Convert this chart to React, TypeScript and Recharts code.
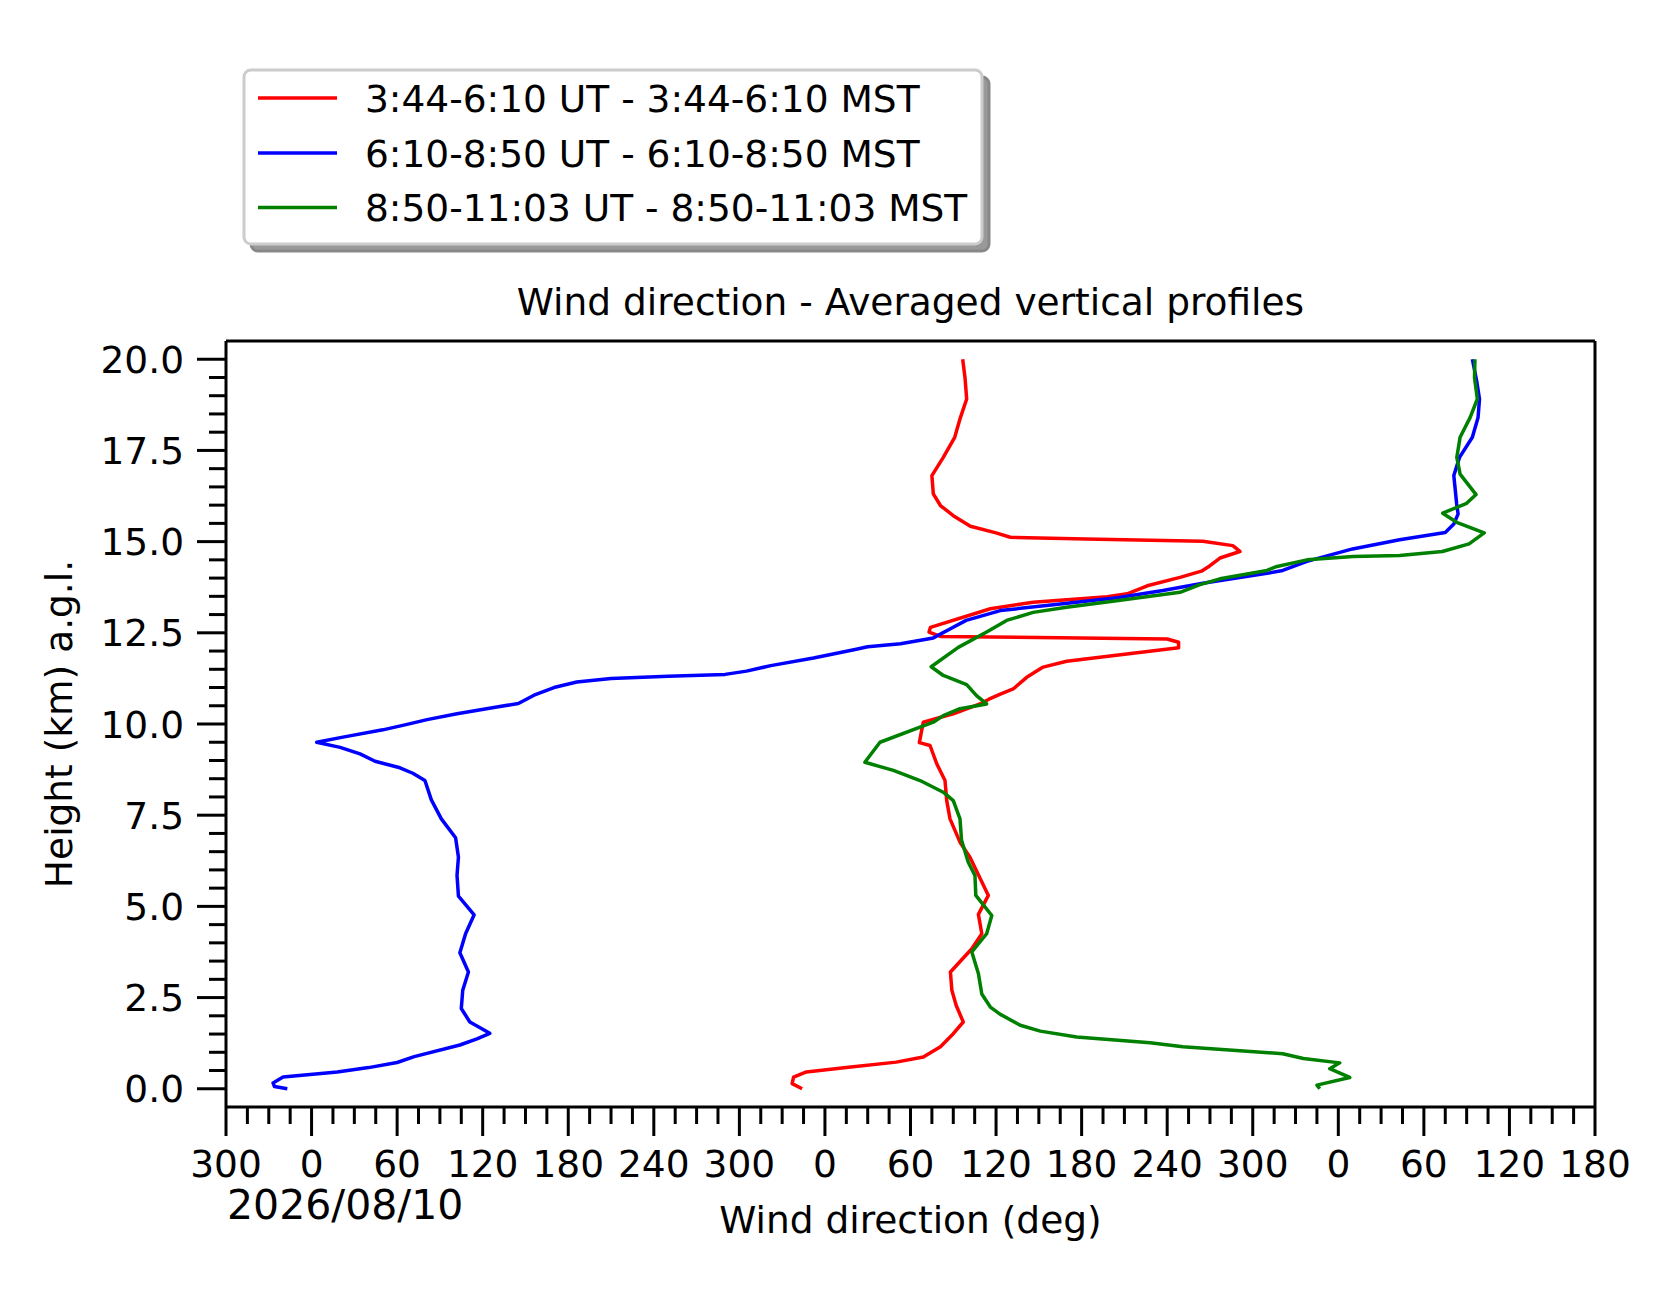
import React from 'react';
import { LineChart, Line, XAxis, YAxis } from 'recharts';

// ---- series names ----
const seriesNames = [
  '3:44-6:10 UT - 3:44-6:10 MST',
  '6:10-8:50 UT - 6:10-8:50 MST',
  '8:50-11:03 UT - 8:50-11:03 MST',
];
const seriesColors = ['#ff0000', '#0000ff', '#008000'];

// ---- red profile (unwrapped wind direction, deg ; height, km) ----
const redDirection = [
  344, 337, 338, 347, 375, 410, 429, 441, 450, 457, 452, 449, 448, 463, 470, 467.6, 474.6,
  461.7, 454.7, 447.7, 445.4, 444.2, 438.4, 433.7, 426.2, 427.8, 429, 450, 468.7, 475, 483,
  492, 501.5, 513, 529.5, 576, 608, 608, 600, 441, 433, 434, 476, 506, 558, 572, 586, 609,
  624, 630, 637, 651, 646, 625, 543, 490, 480, 462, 450, 441, 436, 435, 443, 451, 455,
  459.4, 458.2, 456.6,
];
const redHeight = [
  0.0, 0.14, 0.32, 0.46, 0.58, 0.73, 0.87, 1.15, 1.51, 1.83, 2.29, 2.7, 3.2, 3.84, 4.25, 4.78, 5.3,
  6.35, 6.76, 7.4, 7.9, 8.45, 8.91, 9.41, 9.49, 9.82, 10.05, 10.28, 10.55, 10.68, 10.82,
  10.96, 11.28, 11.56, 11.72, 11.94, 12.09, 12.24, 12.33, 12.4, 12.52, 12.65, 13.16, 13.34, 13.49, 13.57, 13.79, 14.02,
  14.19, 14.34, 14.55, 14.73, 14.89, 15.01, 15.07, 15.12, 15.24, 15.42, 15.71, 15.99, 16.31, 16.81, 17.31, 17.86, 18.4,
  18.91, 19.5, 20.0,
];

// ---- blue profile ----
const blueDirection = [
  -17, -26, -27, -20, 18, 40, 60, 72, 104, 116, 125, 111, 105, 106, 110, 104, 108, 114, 103,
  102, 103, 101, 91, 84, 79.5, 71, 62, 44.5, 34, 20, 3.6, 22, 50, 67, 81, 102, 132, 145, 156,
  170, 186, 210, 250, 290, 305, 322, 352, 382, 390, 413, 436, 448, 459, 483, 530, 565, 597,
  625, 670, 681, 698, 730, 763, 795, 801, 804, 803, 801, 805, 814, 818, 819, 817, 814,
];
const blueHeight = [
  0.0, 0.06, 0.16, 0.32, 0.46, 0.58, 0.72, 0.88, 1.2, 1.37, 1.52, 1.83, 2.2, 2.7, 3.2, 3.73, 4.25, 4.77, 5.28,
  5.85, 6.35, 6.88, 7.4, 7.92, 8.45, 8.65, 8.8, 8.98, 9.18, 9.36, 9.5, 9.64, 9.84, 9.99, 10.12, 10.28, 10.48, 10.56, 10.79,
  11.0, 11.15, 11.25, 11.31, 11.36, 11.45, 11.6, 11.81, 12.05, 12.12, 12.2, 12.36, 12.61, 12.84, 13.11, 13.31, 13.46, 13.66,
  13.86, 14.13, 14.21, 14.46, 14.8, 15.05, 15.25, 15.48, 15.76, 16.03, 16.81, 17.31, 17.86, 18.4, 18.91, 19.41, 20.0,
];

// ---- green profile ----
const greenDirection = [
  707, 705, 728, 714, 721, 695.5, 681, 611, 588, 536.5, 511, 497, 483, 476, 470, 467.6, 463,
  473.4, 477, 465.8, 465.2, 460.5, 455.8, 454.7, 450, 443, 426.7, 408, 388, 398.6, 436, 443,
  454.7, 473.4, 466.3, 459.4, 443, 434.5, 453.5, 473.4, 487.4, 506, 529.5, 564.5, 609, 623,
  637, 670, 677, 698, 730.5, 763, 793, 811.7, 822.3, 803, 793.2, 810, 816.6, 805.4, 803.1,
  805.4, 812.4, 817.5, 815.5, 815.8,
];
const greenHeight = [
  0.0, 0.1, 0.31, 0.55, 0.71, 0.83, 0.96, 1.15, 1.26, 1.42, 1.58, 1.74, 2.04, 2.24, 2.6, 3.16, 3.75,
  4.25, 4.75, 5.3, 5.85, 6.21, 6.81, 7.4, 7.9, 8.13, 8.45, 8.73, 8.95, 9.5, 10.05, 10.23,
  10.42, 10.55, 10.78, 11.08, 11.33, 11.57, 12.1, 12.52, 12.84, 13.06, 13.2, 13.38, 13.61, 13.82,
  13.98, 14.21, 14.32, 14.5, 14.59, 14.62, 14.73, 14.94, 15.24, 15.53, 15.78, 16.05, 16.29, 16.85, 17.31,
  17.86, 18.4, 18.91, 19.5, 20.0,
];

// ---- axes ----
const xDomain: [number, number] = [-60, 900];
const yDomain: [number, number] = [-0.5, 20.5];
const xMajorTicks = [-60, 0, 60, 120, 180, 240, 300, 360, 420, 480, 540, 600, 660, 720, 780, 840, 900];
const yMajorTicks = [0, 2.5, 5, 7.5, 10, 12.5, 15, 17.5, 20];
const xMinorStep = 15;
const yMinorStep = 0.5;

const titleText = 'Wind direction - Averaged vertical profiles';
const xLabelText = 'Wind direction (deg)';
const yLabelText = 'Height (km) a.g.l.';
const dateText = '2026/08/10';

const toPoints = (dirs: number[], hs: number[]) => dirs.map((d, i) => ({ dir: d, h: hs[i] }));
const series = [
  toPoints(redDirection, redHeight),
  toPoints(blueDirection, blueHeight),
  toPoints(greenDirection, greenHeight),
];

const allXTicks: number[] = [];
for (let v = xDomain[0]; v <= xDomain[1] + 1e-9; v += xMinorStep) allXTicks.push(v);
const allYTicks: number[] = [];
for (let v = 0; v <= 20 + 1e-9; v += yMinorStep) allYTicks.push(Math.round(v * 10) / 10);

const FONT = 'DejaVu Sans';
const FS = 37.5;
const W = 1660;
const H = 1287;

const wrap360 = (v: number) => ((v % 360) + 360) % 360;
const isMajorX = (v: number) => xMajorTicks.includes(v);
const isMajorY = (v: number) => yMajorTicks.some((m) => Math.abs(m - v) < 1e-6);

const XTick = (props: any) => {
  const { x, y, payload } = props;
  const v = payload.value as number;
  const major = isMajorX(v);
  const len = major ? 29 : 17;
  return (
    <g>
      <line x1={x} y1={y} x2={x} y2={y + len} stroke="#000" strokeWidth={3} />
      {major && (
        <text x={x} y={y + 70} textAnchor="middle" fontSize={FS} fontFamily={FONT} fill="#000">
          {String(wrap360(v))}
        </text>
      )}
    </g>
  );
};

const YTick = (props: any) => {
  const { x, y, payload } = props;
  const v = payload.value as number;
  const major = isMajorY(v);
  const len = major ? 29 : 17;
  return (
    <g>
      <line x1={x} y1={y} x2={x - len} y2={y} stroke="#000" strokeWidth={3} />
      {major && (
        <text x={x - 42} y={y + 13.5} textAnchor="end" fontSize={FS} fontFamily={FONT} fill="#000">
          {v.toFixed(1)}
        </text>
      )}
    </g>
  );
};

const legendRowsY = [90, 145, 199.5];

export default function App() {
  return (
    <div style={{ position: 'relative', width: W, height: H, background: '#fff' }}>
      <LineChart
        width={W}
        height={H}
        margin={{ top: 332, right: 72, bottom: 88, left: 68 }}
      >
        <XAxis
          xAxisId={0}
          dataKey="dir"
          type="number"
          domain={xDomain}
          allowDataOverflow
          ticks={allXTicks}
          interval={0}
          height={100}
          tickSize={0}
          tickMargin={0}
          tickLine={false}
          axisLine={{ stroke: '#000', strokeWidth: 3 }}
          tick={<XTick />}
        />
        <XAxis
          xAxisId="top"
          orientation="top"
          dataKey="dir"
          type="number"
          domain={xDomain}
          allowDataOverflow
          height={1}
          tick={false}
          tickLine={false}
          axisLine={{ stroke: '#000', strokeWidth: 3 }}
        />
        <YAxis
          yAxisId={0}
          type="number"
          domain={yDomain}
          allowDataOverflow
          ticks={allYTicks}
          interval={0}
          width={150}
          tickSize={0}
          tickMargin={0}
          tickLine={false}
          axisLine={{ stroke: '#000', strokeWidth: 3 }}
          tick={<YTick />}
        />
        <YAxis
          yAxisId="right"
          orientation="right"
          type="number"
          domain={yDomain}
          allowDataOverflow
          width={1}
          tick={false}
          tickLine={false}
          axisLine={{ stroke: '#000', strokeWidth: 3 }}
        />
        {series.map((pts, i) => (
          <Line
            key={seriesNames[i]}
            xAxisId={0}
            yAxisId={0}
            data={pts}
            dataKey="h"
            name={seriesNames[i]}
            type="linear"
            stroke={seriesColors[i]}
            strokeWidth={3.5}
            strokeLinejoin="round"
            dot={false}
            activeDot={false}
            isAnimationActive={false}
          />
        ))}
      </LineChart>
      <svg
        width={W}
        height={H}
        style={{ position: 'absolute', left: 0, top: 0, pointerEvents: 'none' }}
      >
        {/* legend */}
        <rect x={243} y={69} width={738} height={174} rx={7} fill="#999" stroke="#888" strokeWidth={3} />
        <rect x={236} y={62} width={738} height={174} rx={7} fill="#fff" stroke="#ccc" strokeWidth={3} />
        {seriesNames.map((n, i) => (
          <g key={n}>
            <line x1={250} x2={329} y1={legendRowsY[i]} y2={legendRowsY[i]} stroke={seriesColors[i]} strokeWidth={3.5} />
            <text x={357} y={legendRowsY[i] + 13.5} fontSize={FS} fontFamily={FONT} fill="#000">
              {n}
            </text>
          </g>
        ))}
        {/* title */}
        <text x={902.5} y={307} textAnchor="middle" fontSize={FS} fontFamily={FONT} fill="#000">
          {titleText}
        </text>
        {/* x label */}
        <text x={902.5} y={1225} textAnchor="middle" fontSize={FS} fontFamily={FONT} fill="#000">
          {xLabelText}
        </text>
        {/* date */}
        <text x={219} y={1211} fontSize={41} fontFamily={FONT} fill="#000">
          {dateText}
        </text>
        {/* y label */}
        <text
          x={0}
          y={0}
          transform="translate(64,716) rotate(-90)"
          textAnchor="middle"
          fontSize={FS}
          fontFamily={FONT}
          fill="#000"
        >
          {yLabelText}
        </text>
      </svg>
    </div>
  );
}
